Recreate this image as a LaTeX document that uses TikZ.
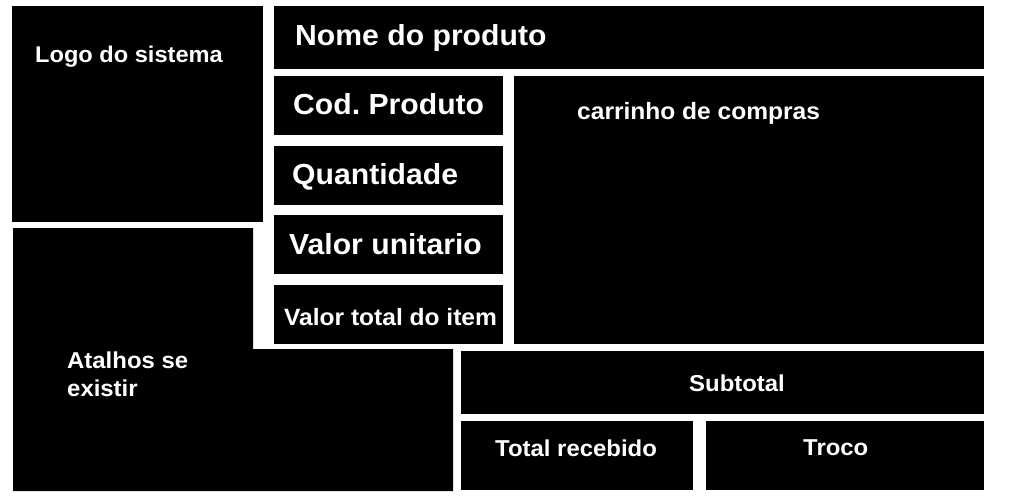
\documentclass[tikz,border=0pt]{standalone}
\usepackage{fontspec}
\setmainfont{Liberation Sans}[FakeStretch=1.04]
\usetikzlibrary{fit}
\frenchspacing

\begin{document}
\begin{tikzpicture}[
    x=1pt, y=-1pt,
    box/.style={fill=black, draw=none, inner sep=0pt},
    lbl/.style={text=white, inner sep=0pt, anchor=base west},
    big/.style={lbl, font=\fontsize{29}{34}\selectfont\bfseries},
    small/.style={lbl, font=\fontsize{23}{28}\selectfont\bfseries},
    mid/.style={lbl, font=\fontsize{23.6}{28}\selectfont\bfseries}
]
\useasboundingbox (0,0) rectangle (1024,500);

% caixas
\node[box, fit={(12,6) (263,222)}] (logo) {};
\node[box, fit={(274,6) (984,69)}] (nome) {};
\node[box, fit={(274,76) (503,135)}] (cod) {};
\node[box, fit={(274,146) (503,205)}] (qtd) {};
\node[box, fit={(274,215) (503,274)}] (vunit) {};
\node[box, fit={(274,285) (503,344)}] (vtotal) {};
\node[box, fit={(514,76) (984,344)}] (carrinho) {};
\node[box, fit={(461,351) (984,414)}] (subtotal) {};
\node[box, fit={(461,421) (693,490)}] (recebido) {};
\node[box, fit={(706,421) (984,490)}] (troco) {};
% atalhos (forma em L)
\fill[black] (13,228) -| (253,349) -| (453,491) -| cycle;

% textos
\node[lbl, font=\fontsize{22.7}{28}\selectfont\bfseries] (tlogo) at (35,63) {Logo do sistema};
\node[big] (tnome) at (295,46) {Nome do produto};
\node[big] (tcod) at (293,114) {Cod. Produto};
\node[big] (tqtd) at (292,184) {Quantidade};
\node[big] (tvunit) at (289,254) {Valor unitario};
\node[mid] (tvtotal) at (284,325) {Valor total do item};
\node[mid] (tcarrinho) at (577,119) {carrinho de compras};
\node[small, align=left] (tatalhos) at (67,396) {Atalhos se\\existir};
\node[small] (tsubtotal) at (689,391) {Subtotal};
\node[small] (trecebido) at (495,456) {Total recebido};
\node[small] (ttroco) at (803,455) {Troco};

\end{tikzpicture}
\end{document}
